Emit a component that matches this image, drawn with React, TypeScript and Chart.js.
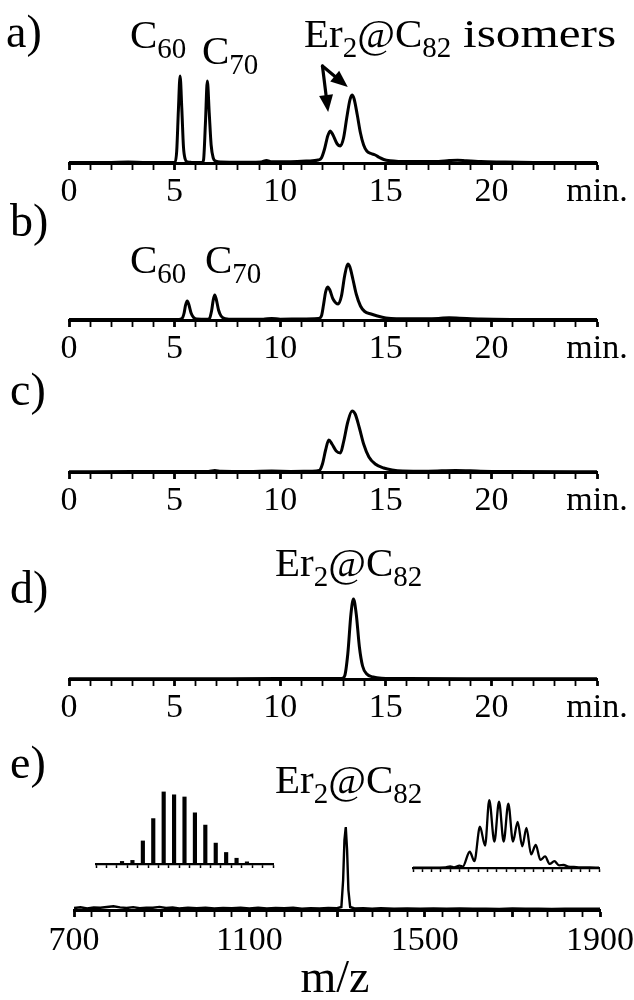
import React, { useEffect, useRef } from 'react';
import { Chart, registerables } from 'chart.js';

Chart.register(...registerables);

const FONT = '"Liberation Serif", "Times New Roman", Times, serif';

// ---------- panel a) HPLC of raw extract (min vs. detector signal) ----------
const timeA = [0, 1, 2, 2.8, 3.5, 4.5, 5.02, 5.1, 5.18, 5.26, 5.34, 5.42, 5.5, 5.6, 5.8, 6.1, 6.3, 6.37, 6.46, 6.55, 6.64, 6.73, 6.83, 6.95, 7.2, 7.6, 8.5, 9.1, 9.35, 9.6, 10.5, 11.3, 11.8, 11.95, 12.1, 12.25, 12.37, 12.5, 12.7, 12.85, 13.0, 13.15, 13.3, 13.4, 13.5, 13.65, 13.8, 13.95, 14.1, 14.3, 14.5, 14.7, 14.9, 15.2, 15.6, 16.5, 17.5, 18.0, 18.4, 18.8, 19.5, 20.5, 22, 25];
const signalA = [0.5, 0.5, 0.6, 0.9, 0.6, 0.5, 0.6, 12, 53, 87, 55, 16, 4, 1.2, 0.6, 0.5, 0.6, 3, 40, 82, 50, 18, 5, 1.8, 0.9, 0.8, 0.8, 1.0, 2.5, 1.2, 1.3, 2, 3, 5, 14, 27, 32, 28, 19, 17, 25, 45, 63, 68, 64, 48, 30, 18, 12, 9.5, 8, 5.5, 3.5, 2.2, 1.6, 1.4, 1.6, 2.4, 2.8, 2.2, 1.4, 1, 0.6, 0.5];

// ---------- panel b) ----------
const timeB = [0, 2, 4, 5.2, 5.35, 5.45, 5.52, 5.6, 5.68, 5.78, 5.9, 6.05, 6.55, 6.65, 6.75, 6.83, 6.9, 6.98, 7.08, 7.2, 7.4, 7.8, 9.2, 9.6, 10, 11, 11.8, 11.95, 12.05, 12.15, 12.25, 12.35, 12.5, 12.75, 12.9, 13.05, 13.2, 13.3, 13.45, 13.6, 13.8, 14.0, 14.3, 14.6, 15.0, 15.5, 16.5, 17.5, 18.0, 18.5, 19.5, 21, 25];
const signalB = [0.4, 0.5, 0.5, 0.6, 1.5, 7, 15, 19, 15, 7, 2.5, 0.9, 0.7, 1.5, 9, 20, 25, 20, 10, 4, 1.3, 0.7, 0.8, 1.6, 0.8, 1, 1.5, 4, 15, 28, 33, 30, 21, 16, 24, 44, 56, 53, 40, 26, 14, 8.5, 6, 4, 2, 1.2, 1.3, 1.6, 2.2, 1.8, 1, 0.6, 0.4];

// ---------- panel c) ----------
const timeC = [0, 3, 5, 6.6, 6.9, 7.2, 8.5, 9.6, 10.5, 11.5, 11.85, 12.0, 12.15, 12.3, 12.45, 12.65, 12.85, 13.0, 13.2, 13.4, 13.55, 13.75, 13.95, 14.2, 14.5, 14.9, 15.3, 15.8, 17, 18.3, 19.5, 21, 25];
const signalC = [0.3, 0.4, 0.5, 0.6, 1.6, 0.7, 0.5, 0.9, 0.6, 0.8, 1.5, 8, 22, 32, 28, 21, 19, 30, 50, 61, 58, 44, 28, 15, 8, 4, 2, 1, 0.8, 1.6, 0.8, 0.5, 0.3];

// ---------- panel d) ----------
const timeD = [0, 5, 10, 12.9, 13.05, 13.2, 13.35, 13.47, 13.6, 13.75, 13.9, 14.1, 14.4, 14.8, 16, 20, 25];
const signalD = [0.3, 0.3, 0.4, 0.5, 3, 25, 65, 80, 65, 32, 13, 5, 2, 0.8, 0.4, 0.3, 0.3];

// ---------- panel e) mass spectrum ----------
const massE = [700, 715, 730, 745, 760, 775, 790, 805, 820, 835, 850, 865, 880, 895, 910, 925, 940, 960, 980, 1000, 1020, 1040, 1060, 1080, 1100, 1120, 1140, 1160, 1180, 1200, 1220, 1240, 1260, 1280, 1300, 1310, 1314, 1317, 1320, 1323, 1326, 1330, 1340, 1360, 1380, 1400, 1430, 1460, 1490, 1520, 1550, 1580, 1610, 1640, 1670, 1700, 1730, 1760, 1790, 1820, 1850, 1880, 1900];
const intensityE = [2, 2.8, 1.5, 2.5, 2.2, 3, 3.8, 2.6, 2.0, 2.9, 1.7, 2.4, 2.2, 3.1, 2.0, 2.5, 1.6, 2.4, 1.9, 2.3, 1.5, 2.1, 1.8, 2.4, 1.6, 2.2, 1.5, 2.0, 1.7, 2.3, 1.4, 1.9, 1.6, 2.0, 1.8, 3, 30, 70, 83, 60, 20, 3, 1.5, 1.8, 1.4, 1.7, 1.3, 1.6, 1.2, 1.5, 1.3, 1.6, 1.2, 1.4, 1.1, 1.5, 1.2, 1.4, 1.1, 1.3, 1.2, 1.4, 1.2];

// inset left: theoretical isotope pattern (%)
const theoMass = [1314, 1315, 1316, 1317, 1318, 1319, 1320, 1321, 1322, 1323, 1324, 1325, 1326];
const theoAbund = [3.6, 5, 32, 63, 100, 96, 93, 71, 54, 29, 16, 8, 3];

// inset right: experimental isotope pattern (%)
const expMass = [1309, 1311, 1312.5, 1313.0, 1313.4, 1314.0, 1314.35, 1315.1, 1315.6, 1316.2, 1316.75, 1317.2, 1317.75, 1318.25, 1318.75, 1319.25, 1319.75, 1320.25, 1320.75, 1321.2, 1321.7, 1322.2, 1322.7, 1323.2, 1323.7, 1324.2, 1324.7, 1325.2, 1325.7, 1326.3, 1327, 1328, 1329];
const expAbund = [0.5, 0.5, 0.8, 2.5, 1, 3.5, 2, 24, 10, 61, 33, 100, 39, 98, 39, 95, 39, 68, 32, 59, 20, 34, 12, 17, 6, 10, 4, 4.4, 2, 1.5, 1, 0.8, 0.5];

// tick labels
const chromTickValues = [0, 5, 10, 15, 20, 25];
const chromTickLabels = ['0', '5', '10', '15', '20', 'min.'];
const msTickValues = [700, 1100, 1500, 1900];
const msTickLabels = ['700', '1100', '1500', '1900'];

// arrow annotation in panel a (min, signal)
const isomerArrowFrom = [12.0, 97];
const isomerArrowTips = [[12.27, 51], [13.2, 76]];

const arrowPlugin = {
  id: 'isomerArrows',
  afterDatasetsDraw(chart: any) {
    const { ctx } = chart;
    const x = chart.scales.x;
    const y = chart.scales.y;
    const ox = x.getPixelForValue(isomerArrowFrom[0]);
    const oy = y.getPixelForValue(isomerArrowFrom[1]);
    ctx.save();
    ctx.strokeStyle = '#000';
    ctx.fillStyle = '#000';
    ctx.lineWidth = 3.2;
    ctx.lineCap = 'round';
    for (const [tx, ty] of isomerArrowTips) {
      const px = x.getPixelForValue(tx);
      const py = y.getPixelForValue(ty);
      const ang = Math.atan2(py - oy, px - ox);
      const head = 17;
      const half = 7;
      const bx = px - head * Math.cos(ang);
      const by = py - head * Math.sin(ang);
      ctx.beginPath();
      ctx.moveTo(ox, oy);
      ctx.lineTo(bx + 2 * Math.cos(ang), by + 2 * Math.sin(ang));
      ctx.stroke();
      ctx.beginPath();
      ctx.moveTo(px, py);
      ctx.lineTo(bx + half * Math.sin(ang), by - half * Math.cos(ang));
      ctx.lineTo(bx - half * Math.sin(ang), by + half * Math.cos(ang));
      ctx.closePath();
      ctx.fill();
    }
    ctx.restore();
  },
};

const tickFont = { family: FONT, size: 34, lineHeight: 1.2 };
const LINE_W = 3;

function chromConfig(times: number[], signal: number[], plotH: number, withArrows: boolean) {
  return {
    type: 'line',
    data: {
      datasets: [
        {
          data: times.map((t, i) => ({ x: t, y: signal[i] })),
          borderColor: '#000',
          borderWidth: LINE_W,
          pointRadius: 0,
          cubicInterpolationMode: 'monotone',
          fill: false,
        },
      ],
    },
    options: {
      responsive: false,
      animation: false,
      events: [],
      layout: { padding: { left: 69, right: 37, top: 0, bottom: 0 } },
      plugins: { legend: { display: false }, tooltip: { enabled: false } },
      scales: {
        x: {
          type: 'linear',
          min: 0,
          max: 25,
          afterFit: (s: any) => {
            s.height = 56;
            s.paddingLeft = 0;
            s.paddingRight = 0;
          },
          ticks: {
            stepSize: 1,
            autoSkip: false,
            maxRotation: 0,
            padding: 2,
            color: '#000',
            font: tickFont,
            callback: (v: number) => {
              const i = chromTickValues.indexOf(v);
              return i >= 0 ? chromTickLabels[i] : '';
            },
          },
          grid: {
            display: true,
            drawOnChartArea: false,
            drawTicks: true,
            tickLength: 7,
            tickColor: '#000',
            tickWidth: (c: any) => (c.tick && c.tick.value % 5 === 0 ? 2.8 : 1.8),
          },
          border: { display: true, color: '#000', width: LINE_W },
        },
        y: { display: false, min: 0, max: plotH },
      },
    },
    plugins: withArrows ? [arrowPlugin] : [],
  };
}

function msConfig() {
  return {
    type: 'line',
    data: {
      datasets: [
        {
          data: massE.map((m, i) => ({ x: m, y: intensityE[i] })),
          borderColor: '#000',
          borderWidth: 2.4,
          pointRadius: 0,
          tension: 0,
          fill: false,
        },
      ],
    },
    options: {
      responsive: false,
      animation: false,
      events: [],
      layout: { padding: { left: 74, right: 34, top: 0, bottom: 0 } },
      plugins: { legend: { display: false }, tooltip: { enabled: false } },
      scales: {
        x: {
          type: 'linear',
          min: 700,
          max: 1900,
          afterFit: (s: any) => {
            s.height = 56;
            s.paddingLeft = 0;
            s.paddingRight = 0;
          },
          ticks: {
            stepSize: 40,
            autoSkip: false,
            maxRotation: 0,
            padding: 4,
            color: '#000',
            font: tickFont,
            callback: (v: number) => {
              const i = msTickValues.indexOf(v);
              return i >= 0 ? msTickLabels[i] : '';
            },
          },
          grid: {
            display: true,
            drawOnChartArea: false,
            drawTicks: true,
            tickLength: 7,
            tickColor: '#000',
            tickWidth: (c: any) => (c.tick && (c.tick.value - 700) % 200 === 0 ? 2.8 : 1.8),
          },
          border: { display: true, color: '#000', width: LINE_W },
        },
        y: { display: false, min: 0, max: 100 },
      },
    },
  };
}

function insetScales(min: number, max: number, yMax: number) {
  return {
    x: {
      type: 'linear',
      min,
      max,
      offset: false,
      afterFit: (s: any) => {
        s.height = 8;
        s.paddingLeft = 0;
        s.paddingRight = 0;
      },
      ticks: { display: false, stepSize: 1, autoSkip: false },
      grid: {
        display: true,
        offset: false,
        drawOnChartArea: false,
        drawTicks: true,
        tickLength: 4,
        tickColor: '#000',
        tickWidth: 1.5,
      },
      border: { display: true, color: '#000', width: 2.2 },
    },
    y: { display: false, min: 0, max: yMax },
  };
}

function theoConfig() {
  return {
    type: 'bar',
    data: {
      datasets: [
        {
          data: theoMass.map((m, i) => ({ x: m, y: theoAbund[i] })),
          backgroundColor: '#000',
          borderWidth: 0,
          barThickness: 3.5,
        },
      ],
    },
    options: {
      responsive: false,
      animation: false,
      events: [],
      layout: { padding: { left: 6, right: 7, top: 0, bottom: 0 } },
      plugins: { legend: { display: false }, tooltip: { enabled: false } },
      scales: insetScales(1311.5, 1328.5, 111),
    },
  };
}

function expConfig() {
  return {
    type: 'line',
    data: {
      datasets: [
        {
          data: expMass.map((m, i) => ({ x: m, y: expAbund[i] })),
          borderColor: '#000',
          borderWidth: 2.3,
          pointRadius: 0,
          cubicInterpolationMode: 'monotone',
          fill: false,
        },
      ],
    },
    options: {
      responsive: false,
      animation: false,
      events: [],
      layout: { padding: { left: 6, right: 8, top: 0, bottom: 0 } },
      plugins: { legend: { display: false }, tooltip: { enabled: false } },
      scales: insetScales(1309, 1329, 118),
    },
  };
}

function ChartCanvas(props: { left: number; top: number; width: number; height: number; make: () => any }) {
  const ref = useRef<HTMLCanvasElement | null>(null);
  useEffect(() => {
    const chart = new Chart(ref.current as HTMLCanvasElement, props.make());
    return () => chart.destroy();
  }, []);
  return (
    <canvas
      ref={ref}
      width={props.width}
      height={props.height}
      style={{ position: 'absolute', left: props.left, top: props.top, width: props.width, height: props.height }}
    />
  );
}

function Label(props: { left: number; baseline: number; size?: number; center?: boolean; children: any }) {
  const size = props.size || 41;
  return (
    <div
      style={{
        position: 'absolute',
        left: props.left,
        top: props.baseline - 0.8375 * size,
        fontSize: size,
        lineHeight: 1,
        whiteSpace: 'nowrap',
        fontFamily: FONT,
        color: '#000',
        transform: props.center ? 'translateX(-50%)' : undefined,
      }}
    >
      {props.children}
    </div>
  );
}

function Sub(props: { children: any }) {
  return <span style={{ fontSize: 29, position: 'relative', top: 10 }}>{props.children}</span>;
}

const PANEL_LETTER = 46;

export default function App() {
  return (
    <div style={{ position: 'absolute', left: 0, top: 0, width: 634, height: 1000, background: '#fff', overflow: 'hidden' }}>
      <ChartCanvas left={0} top={0} width={634} height={163 + 56} make={() => chromConfig(timeA, signalA, 163, true)} />
      <ChartCanvas left={0} top={240} width={634} height={80 + 56} make={() => chromConfig(timeB, signalB, 80, false)} />
      <ChartCanvas left={0} top={392} width={634} height={80 + 56} make={() => chromConfig(timeC, signalC, 80, false)} />
      <ChartCanvas left={0} top={579} width={634} height={100 + 56} make={() => chromConfig(timeD, signalD, 100, false)} />
      <ChartCanvas left={0} top={810} width={634} height={100 + 56} make={() => msConfig()} />
      <ChartCanvas left={90} top={784} width={190} height={88} make={() => theoConfig()} />
      <ChartCanvas left={407} top={788} width={200} height={88} make={() => expConfig()} />

      <Label left={6} baseline={48} size={PANEL_LETTER}>a)</Label>
      <Label left={130} baseline={48}>C<Sub>60</Sub></Label>
      <Label left={202} baseline={64}>C<Sub>70</Sub></Label>
      <Label left={304} baseline={47}>
        Er<Sub>2</Sub>@C<Sub>82</Sub>
        <span style={{ display: 'inline-block', marginLeft: 12, transform: 'scaleX(1.2)', transformOrigin: '0 0' }}>isomers</span>
      </Label>

      <Label left={10} baseline={237} size={PANEL_LETTER}>b)</Label>
      <Label left={130} baseline={273}>C<Sub>60</Sub></Label>
      <Label left={205} baseline={273}>C<Sub>70</Sub></Label>

      <Label left={10} baseline={406} size={PANEL_LETTER}>c)</Label>

      <Label left={10} baseline={604} size={PANEL_LETTER}>d)</Label>
      <Label left={275} baseline={576}>Er<Sub>2</Sub>@C<Sub>82</Sub></Label>

      <Label left={10} baseline={779} size={PANEL_LETTER}>e)</Label>
      <Label left={275} baseline={793}>Er<Sub>2</Sub>@C<Sub>82</Sub></Label>

      <Label left={335} baseline={993} size={46} center>m/z</Label>
    </div>
  );
}
